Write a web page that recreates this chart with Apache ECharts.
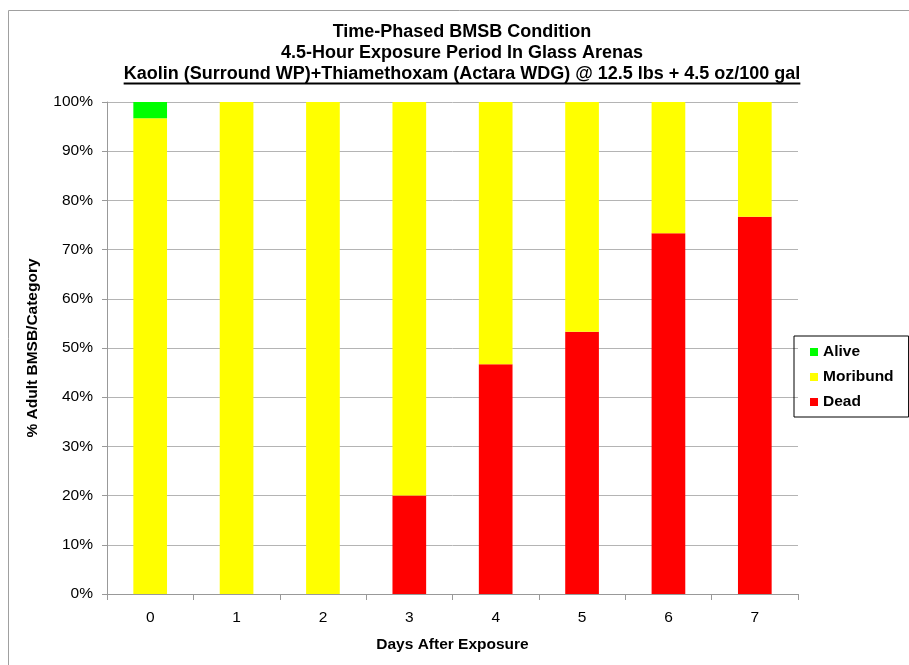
<!DOCTYPE html>
<html><head><meta charset="utf-8">
<script src="https://cdn.jsdelivr.net/npm/echarts@6/dist/echarts.min.js"></script>
<style>html,body{margin:0;padding:0;background:#fff}#c{width:909px;height:665px}</style>
</head><body><div id="c"></div>
<script>
var categories = ['0','1','2','3','4','5','6','7'];
var dead = [0, 0, 0, 20, 46.7, 53.3, 73.3, 76.7];
var moribund = [96.7, 100, 100, 80, 53.3, 46.7, 26.7, 23.3];
var alive = [3.3, 0, 0, 0, 0, 0, 0, 0];
var titleLines = ['Time-Phased BMSB Condition', '4.5-Hour Exposure Period In Glass Arenas',
  'Kaolin (Surround WP)+Thiamethoxam (Actara WDG) @ 12.5 lbs + 4.5 oz/100 gal'];

var font = 'Liberation Sans, Arial, sans-serif';
var ctx = document.createElement('canvas').getContext('2d');
ctx.font = 'bold 16px ' + font;
var fs = 16 * 702 / ctx.measureText(titleLines[2]).width;
if (fs > 18) fs = 18;
if (fs < 15) fs = 15;
ctx.font = 'bold ' + fs + 'px ' + font;
var tw = ctx.measureText(titleLines[2]).width;
var cx = 462;
var ys = [32, 53, 74.5];

var chart = echarts.init(document.getElementById('c'));
var titleGraphics = titleLines.map(function(t, i){
  return {type:'text', x: cx, y: ys[i], style:{text:t, fontSize: fs, fontWeight:'bold', fontFamily: font, fill:'#000', align:'center', verticalAlign:'middle'}};
});
titleGraphics.push({type:'rect', shape:{x: cx - tw/2, y: 82.5, width: tw, height: 2}, style:{fill:'#000'}});
titleGraphics.unshift({type:'rect', shape:{x:8.5,y:10.5,width:1000,height:1000}, style:{fill:'none', stroke:'#a0a0a0', lineWidth:1}});

chart.setOption({
  animation: false,
  textStyle: {fontFamily: font},
  graphic: titleGraphics,
  legend: {
    data: ['Alive','Moribund','Dead'],
    orient: 'vertical', left: 794, top: 336,
    padding: [8, 15, 7, 16], itemGap: 9,
    itemWidth: 8, itemHeight: 8, icon: 'rect',
    borderColor: '#000', borderWidth: 1,
    textStyle: {fontSize: 15.5, fontWeight: 'bold', color: '#000', fontFamily: font}
  },
  grid: {left: 107, right: 111, top: 102, bottom: 71, containLabel: false},
  xAxis: {
    type: 'category', data: categories,
    name: 'Days After Exposure', nameLocation: 'middle', nameGap: 43,
    nameTextStyle: {fontSize: 15.5, fontWeight: 'bold', color: '#000'},
    axisLine: {lineStyle: {color: '#999'}},
    axisTick: {show: true, length: 6, lineStyle: {color: '#999'}},
    axisLabel: {fontSize: 15.5, color: '#000', margin: 16}
  },
  yAxis: {
    type: 'value', min: 0, max: 100, interval: 10,
    name: '% Adult BMSB/Category', nameLocation: 'middle', nameGap: 66,
    nameTextStyle: {fontSize: 15.5, fontWeight: 'bold', color: '#000'},
    axisLine: {show: true, lineStyle: {color: '#999'}},
    axisTick: {show: true, length: 5, lineStyle: {color: '#999'}},
    axisLabel: {fontSize: 15.5, color: '#000', margin: 14, formatter: function(v){return v + '%';}},
    splitLine: {lineStyle: {color: '#b4b4b4'}}
  },
  series: [
    {name: 'Dead', type: 'bar', stack: 's', data: dead, barWidth: '39%', itemStyle: {color: '#ff0000'}},
    {name: 'Moribund', type: 'bar', stack: 's', data: moribund, barWidth: '39%', itemStyle: {color: '#ffff00'}},
    {name: 'Alive', type: 'bar', stack: 's', data: alive, barWidth: '39%', itemStyle: {color: '#00ff00'}}
  ]
});
</script>
</body></html>
